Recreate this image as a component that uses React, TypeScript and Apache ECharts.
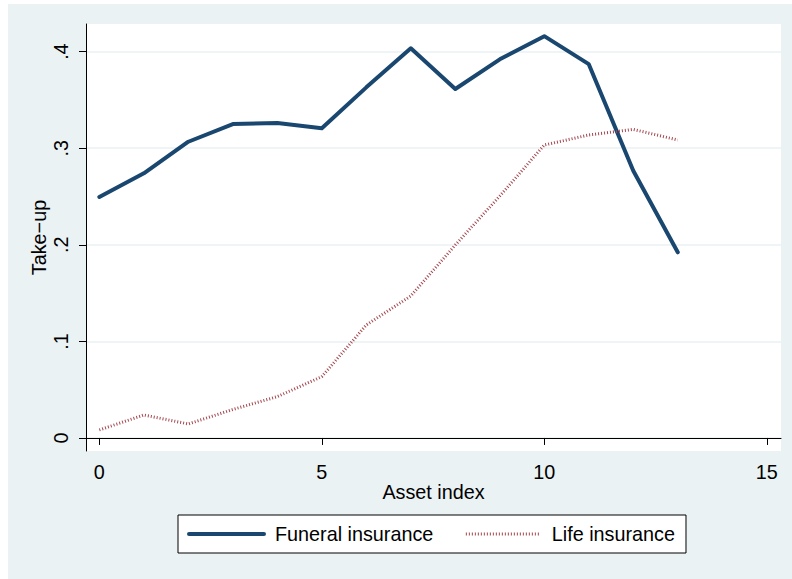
import React, { useEffect, useRef } from "react";
import * as echarts from "echarts";

const assetIndex = [0, 1, 2, 3, 4, 5, 6, 7, 8, 9, 10, 11, 12, 13];
const funeralTakeUp = [0.2495, 0.274, 0.3067, 0.325, 0.326, 0.3206, 0.363, 0.4034, 0.3613, 0.392, 0.416, 0.387, 0.2767, 0.1922];
const lifeTakeUp = [0.0083, 0.0238, 0.0145, 0.0295, 0.0428, 0.0635, 0.117, 0.147, 0.1998, 0.2505, 0.3033, 0.3137, 0.3195, 0.3085];
const yTicks = [0, 0.1, 0.2, 0.3, 0.4];
const xTicks = [0, 5, 10, 15];
const seriesNames = ["Funeral insurance", "Life insurance"];

const FONT = "'Liberation Sans', Arial, sans-serif";
const FS = 19.8;
const NAVY = "#1A476F";
const MAROON = "#a4454d";

export default function App() {
  const ref = useRef<HTMLDivElement>(null);
  useEffect(() => {
    if (!ref.current) return;
    const chart = echarts.init(ref.current, undefined, { renderer: "svg" });
    const fmtY = (v: number) => {
      if (Math.abs(v) < 1e-9) return "0";
      return "." + Math.round(v * 10);
    };
    chart.setOption({
      animation: false,
      backgroundColor: "#ffffff",
      textStyle: { fontFamily: FONT },
      graphic: [
        {
          type: "rect",
          z: -10,
          silent: true,
          shape: { x: 8, y: 4, width: 784, height: 575 },
          style: { fill: "#EAF2F3" },
        },
      ],
      grid: {
        left: 86,
        top: 24,
        width: 695,
        height: 427,
        show: true,
        backgroundColor: "#ffffff",
        borderWidth: 0,
        containLabel: false,
      },
      xAxis: {
        type: "value",
        min: -0.3,
        max: 15.32,
        name: "Asset index",
        nameLocation: "middle",
        nameGap: 31,
        nameMoveOverlap: false,
        nameTextStyle: { fontFamily: FONT, fontSize: FS, color: "#000" },
        axisLine: { show: true, lineStyle: { color: "#000", width: 1 } },
        axisTick: { show: true, inside: false, length: 7, customValues: xTicks, lineStyle: { color: "#000", width: 1 } },
        axisLabel: { customValues: xTicks, margin: 11, fontFamily: FONT, fontSize: FS, color: "#000" },
        splitLine: { show: false },
      },
      yAxis: {
        type: "value",
        min: -0.0135,
        max: 0.4286,
        name: "Take−up",
        nameLocation: "middle",
        nameGap: 37,
        nameMoveOverlap: false,
        nameRotate: 90,
        nameTextStyle: { fontFamily: FONT, fontSize: FS, color: "#000" },
        axisLine: { show: true, onZero: false, lineStyle: { color: "#000", width: 1 } },
        axisTick: { show: true, inside: false, length: 7, customValues: yTicks, lineStyle: { color: "#000", width: 1 } },
        axisLabel: {
          customValues: yTicks,
          rotate: 90,
          margin: 15,
          fontFamily: FONT,
          fontSize: FS,
          color: "#000",
          formatter: fmtY,
        },
        splitLine: { show: true, lineStyle: { color: "#EAF2F3", width: 1.5 } },
      },
      legend: {
        left: 178,
        top: 515,
        orient: "horizontal",
        backgroundColor: "#ffffff",
        borderColor: "#000",
        borderWidth: 1,
        borderRadius: 0,
        padding: [9, 11, 9, 9],
        itemGap: 31,
        itemWidth: 75,
        itemHeight: 20,
        itemStyle: { opacity: 0, borderWidth: 0 },
        textStyle: { fontFamily: FONT, fontSize: FS, color: "#000", padding: [0, 0, 0, 6] },
        data: [
          { name: seriesNames[0], lineStyle: { color: NAVY, width: 4 } },
          { name: seriesNames[1], lineStyle: { color: MAROON, width: 3, type: [1, 2] } },
        ],
      },
      series: [
        {
          name: seriesNames[0],
          type: "line",
          symbol: "none",
          data: assetIndex.map((x, i) => [x, funeralTakeUp[i]]),
          lineStyle: { color: NAVY, width: 4, join: "round", cap: "round" },
          itemStyle: { color: NAVY },
        },
        {
          name: seriesNames[1],
          type: "line",
          symbol: "none",
          data: assetIndex.map((x, i) => [x, lifeTakeUp[i]]),
          lineStyle: { color: MAROON, width: 3, type: [1, 2] },
          itemStyle: { color: MAROON },
        },
      ],
    });
    return () => chart.dispose();
  }, []);
  return (
    <div
      ref={ref}
      style={{ position: "absolute", left: 0, top: 0, width: 792, height: 579 }}
    />
  );
}
